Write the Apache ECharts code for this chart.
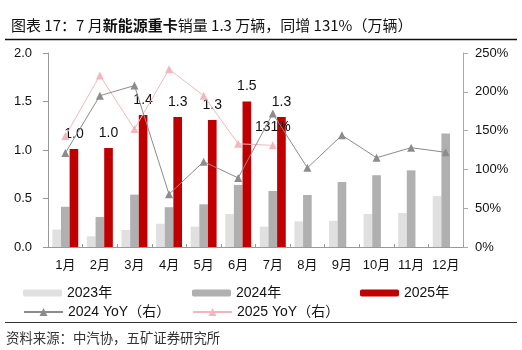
<!DOCTYPE html>
<html>
<head>
<meta charset="utf-8">
<script src="https://cdn.jsdelivr.net/npm/echarts@6/dist/echarts.min.js"></script>
<style>
html,body{margin:0;padding:0;background:#fff;}
#c{width:522px;height:350px;}
</style>
</head>
<body>
<div id="c"></div>
<script>
var months = ['1月','2月','3月','4月','5月','6月','7月','8月','9月','10月','11月','12月'];
var sales2023 = [0.18,0.11,0.175,0.24,0.21,0.34,0.21,0.265,0.27,0.34,0.35,0.525];
var sales2024 = [0.415,0.31,0.54,0.41,0.44,0.64,0.577,0.536,0.67,0.74,0.79,1.17];
var sales2025 = [1.01,1.02,1.36,1.34,1.31,1.50,1.34];
var yoy2024 = [121,195,208,68,110,89,172,102,144,115,128,122];
var yoy2025 = [143,221,152,229,195,133,131];
var leftTicks = [0,0.5,1.0,1.5,2.0];
var rightTicks = [0,50,100,150,200,250];

var font = 'Liberation Sans, Arial, Noto Sans CJK SC, sans-serif';
var cjk = 'Noto Sans CJK SC, Liberation Sans, sans-serif';

var chart = echarts.init(document.getElementById('c'), null, {renderer:'canvas'});
chart.setOption({
  animation:false,
  backgroundColor:'#fff',
  textStyle:{fontFamily:font},
  title:{
    left:6, top:13,
    text:'{n|图表 17：7 月}{b|新能源重卡}{n|销量 1.3 万辆，同增 131%（万辆）}',
    textStyle:{
      rich:{
        n:{fontSize:15, fontFamily:cjk, color:'#111', fontWeight:'normal'},
        b:{fontSize:15, fontFamily:cjk, color:'#111', fontWeight:'bold'}
      }
    }
  },
  graphic:[
    {type:'line', shape:{x1:5,y1:39.5,x2:517,y2:39.5}, style:{stroke:'#111', lineWidth:1.5}},
    {type:'line', shape:{x1:5,y1:322.5,x2:517,y2:322.5}, style:{stroke:'#333', lineWidth:1}},
    {type:'text', left:6, top:331, style:{text:'资料来源：中汽协，五矿证券研究所', font:'13.4px '+cjk, fill:'#333'}}
  ],
  grid:{left:48, right:59, top:53, bottom:103},
  legend:[
    {data:['2023年'], left:18, top:281, itemWidth:39, itemHeight:7, textStyle:{fontSize:14, color:'#111', fontFamily:font}},
    {data:['2024年'], left:187, top:281, itemWidth:39, itemHeight:7, textStyle:{fontSize:14, color:'#111', fontFamily:font}},
    {data:['2025年'], left:355, top:281, itemWidth:39, itemHeight:7, textStyle:{fontSize:14, color:'#111', fontFamily:font}},
    {data:['2024 YoY（右）'], left:18, top:300, itemWidth:39, itemHeight:10, textStyle:{fontSize:14, color:'#111', fontFamily:font}},
    {data:['2025 YoY（右）'], left:187, top:300, itemWidth:39, itemHeight:10, textStyle:{fontSize:14, color:'#111', fontFamily:font}}
  ],
  xAxis:{
    type:'category', data:months, boundaryGap:true,
    axisLine:{lineStyle:{color:'#999', width:1}},
    axisTick:{show:true, inside:true, length:3, lineStyle:{color:'#999'}},
    axisLabel:{color:'#111', fontSize:13, margin:12, fontFamily:font, interval:0}
  },
  yAxis:[
    {type:'value', min:0, max:2, interval:0.5, position:'left',
     axisLine:{show:true, lineStyle:{color:'#999'}},
     axisTick:{show:true, length:5, lineStyle:{color:'#999'}},
     splitLine:{show:false},
     axisLabel:{color:'#111', fontSize:13, margin:16, formatter:function(v){return v.toFixed(1);}}},
    {type:'value', min:0, max:250, interval:50, position:'right',
     axisLine:{show:true, lineStyle:{color:'#aaa'}},
     axisTick:{show:true, length:5, lineStyle:{color:'#aaa'}},
     splitLine:{show:false},
     axisLabel:{color:'#111', fontSize:13, margin:12, formatter:'{value}%'}}
  ],
  series:[
    {name:'2023年', type:'bar', data:sales2023, barGap:'0%', barCategoryGap:'25%', itemStyle:{color:'#e0e0e0'}},
    {name:'2024年', type:'bar', data:sales2024, barGap:'0%', barCategoryGap:'25%', itemStyle:{color:'#b0b0b0'}},
    {name:'2025年', type:'bar', data:sales2025, barGap:'0%', barCategoryGap:'25%', itemStyle:{color:'#c00000'},
     label:{show:true, position:'top', distance:8, fontSize:14, color:'#111', formatter:function(p){return p.value.toFixed(1);}}},
    {name:'2024 YoY（右）', type:'line', yAxisIndex:1, data:yoy2024, symbol:'triangle', symbolSize:8,
     lineStyle:{color:'#8c8c8c', width:1}, itemStyle:{color:'#8c8c8c'}, z:5},
    {name:'2025 YoY（右）', type:'line', yAxisIndex:1, symbol:'triangle', symbolSize:8,
     data:yoy2025.map(function(v,i){
       return i===6 ? {value:v, label:{show:true, position:'top', distance:7, fontSize:14, color:'#111', formatter:function(p){return p.value+'%';}}} : v;
     }),
     lineStyle:{color:'#f4b6bd', width:1}, itemStyle:{color:'#f4b6bd'}, z:4}
  ]
});
</script>
</body>
</html>
